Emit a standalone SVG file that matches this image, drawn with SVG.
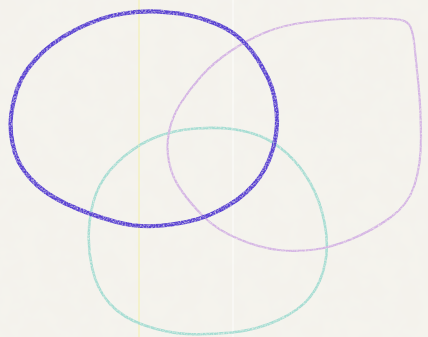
<svg xmlns="http://www.w3.org/2000/svg" width="428" height="337" viewBox="0 0 428 337">
  <defs>
    <filter id="paper" x="0" y="0" width="100%" height="100%">
      <feTurbulence type="fractalNoise" baseFrequency="0.05" numOctaves="3" seed="4" result="n"/>
      <feColorMatrix in="n" type="matrix" values="0 0 0 0 0.93  0 0 0 0 0.92  0 0 0 0 0.88  0 0 0 0.35 -0.05"/>
    </filter>
    <filter id="crayon" x="-5%" y="-5%" width="110%" height="110%">
      <feTurbulence type="fractalNoise" baseFrequency="0.7" numOctaves="2" seed="2" result="t"/>
      <feDisplacementMap in="SourceGraphic" in2="t" scale="1.2" xChannelSelector="R" yChannelSelector="G" result="d"/>
      <feTurbulence type="fractalNoise" baseFrequency="0.6" numOctaves="2" seed="7" result="g"/>
      <feColorMatrix in="g" type="matrix" values="0 0 0 0 0  0 0 0 0 0  0 0 0 0 0  0 0 0 1.6 0.05" result="ga"/>
      <feComposite in="d" in2="ga" operator="in"/>
    </filter>
  </defs>
  <style>
    .stroke { fill: none; stroke-linecap: round; stroke-linejoin: round; filter: url(#crayon); }
    .blue { stroke: #5a42d2; stroke-width: 4.2; }
    .purple { stroke: #d4b4e4; stroke-width: 2.2; }
    .teal { stroke: #a6ddd3; stroke-width: 2.6; }
  </style>
  <rect width="428" height="337" fill="#f4f2ec"/>
  <rect width="428" height="337" filter="url(#paper)"/>
  <line x1="139" y1="0" x2="139" y2="337" stroke="#f3f0a8" stroke-width="1.2" opacity="0.8"/>
  <line x1="233" y1="0" x2="233" y2="337" stroke="#ffffff" stroke-width="1.2" opacity="0.7"/>
  <g id="shape-teal">
    <path class="stroke teal" d="M232,129 Q247,131 260,136 Q273,141 286.5,153 Q300,165 310,182.5 Q320,200 324.5,222.5 Q329,245 325,264 Q321,283 310.5,296.5 Q300,310 278.5,320 Q257,330 232,332.5 Q207,335 187,334 Q167,333 145,325.5 Q123,318 110,304 Q97,290 92,267.5 Q87,245 89.5,222.5 Q92,200 100,185 Q108,170 124,156.5 Q140,143 157.5,136.5 Q175,130 196,128.5 Q217,127 232,129 Z"/>
  </g>
  <g id="shape-purple">
    <path class="stroke purple" d="M351.5,18.5 Q370,18 384,18.5 Q398,19 403,20.5 Q408,22 410.5,27 Q413,32 414.5,46 Q416,60 418.5,85 Q421,110 421,137.5 Q421,165 414.5,185 Q408,205 390.5,217.5 Q373,230 353,238.5 Q333,247 315,249.5 Q297,252 278.5,250 Q260,248 238.5,239 Q217,230 203.5,216.5 Q190,203 181,190 Q172,177 169,162 Q166,147 169,132 Q172,117 180.5,103.5 Q189,90 201,76.5 Q213,63 230,51.5 Q247,40 265,32.5 Q283,25 308,22 Q333,19 351.5,18.5 Z"/>
  </g>
  <g id="shape-blue">
    <path class="stroke blue" d="M168.5,12.5 Q190,14 208.5,21 Q227,27 240,38.5 Q253,50 263,68.5 Q274,87 276,107 Q279,127 273,148.5 Q267,170 253.5,185 Q240,200 220,210 Q200,221 171.5,224.5 Q143,229 116.5,222 Q90,215 66.5,204 Q43,193 30,178 Q16,163 12.5,143 Q8,123 14,100 Q19,77 35,60 Q50,43 75,30 Q100,17 123.5,13.5 Q147,10 168.5,12.5 Z"/>
  </g>
</svg>
